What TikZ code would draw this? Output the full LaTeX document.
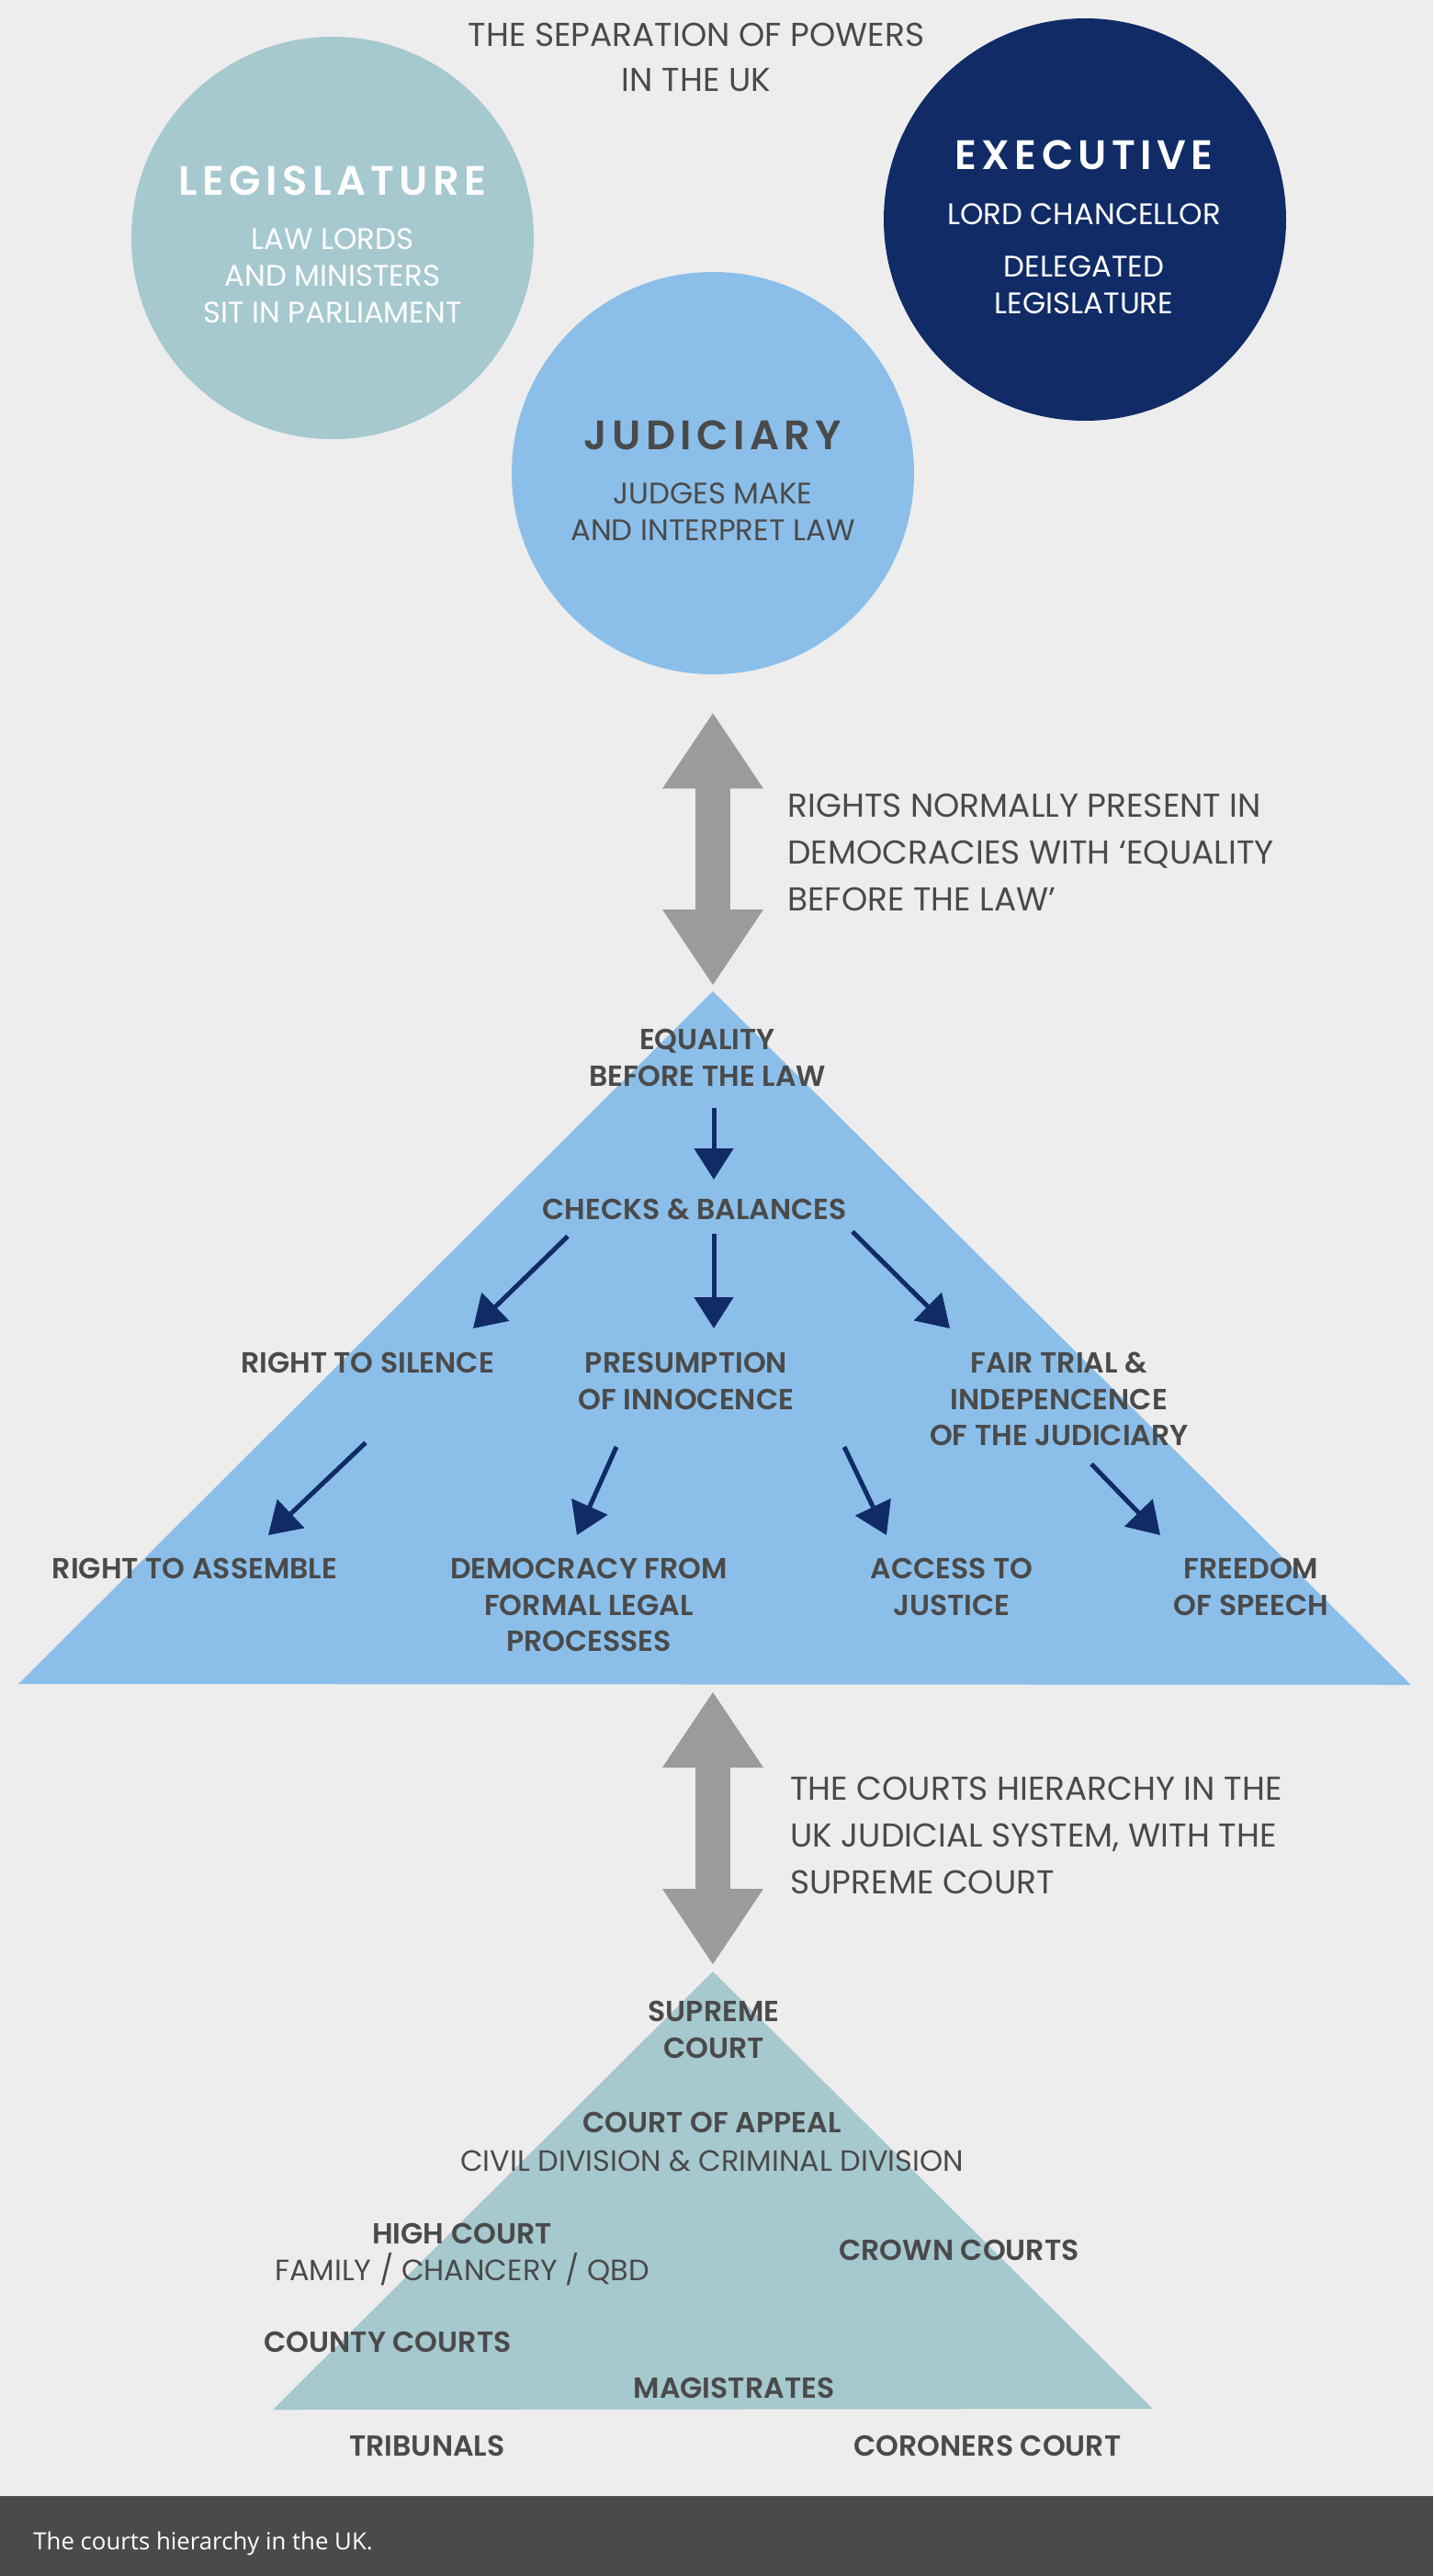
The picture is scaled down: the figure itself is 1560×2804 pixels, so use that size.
\documentclass[tikz,border=0pt]{standalone}
\usepackage{fontspec}
\setmainfont{Poppins}[UprightFont=* Regular, BoldFont=* SemiBold]
\newfontfamily\headfont{Poppins}[UprightFont=* SemiBold, LetterSpace=12]
\newfontfamily\notefont{Open Sans}
\usepackage{tikz}
\usetikzlibrary{positioning,arrows.meta,calc}
\definecolor{paper}{HTML}{EDEDED}
\definecolor{sage}{HTML}{A6C8CF}
\definecolor{navy}{HTML}{102B66}
\definecolor{sky}{HTML}{8BBFEA}
\definecolor{steel}{HTML}{9B9B9B}
\definecolor{ink}{HTML}{4A4A4A}
\definecolor{slate}{HTML}{4A4A49}
\newcommand{\thin}{\mdseries\fontsize{16}{19.75}\selectfont}
\tikzset{
  pillar/.style = {circle, fill=#1, minimum size=219pt, inner sep=0pt},
  head/.style   = {font=\headfont\fontsize{22.4}{26}\selectfont, text=#1, inner sep=0pt, anchor=north},
  gist/.style   = {font=\fontsize{16.2}{20}\selectfont, text=#1, align=center, inner sep=0pt, anchor=north},
  tag/.style    = {font=\bfseries\fontsize{15.8}{19.75}\selectfont, text=ink, align=center, inner sep=0pt, anchor=north},
  aside/.style  = {font=\fontsize{18}{25.5}\selectfont, text=ink, align=left, inner sep=0pt, anchor=north west},
  link/.style   = {-{Triangle[length=17pt, width=21pt]}, line width=2.5pt, draw=navy},
  bridge/.style = {{Triangle[length=41pt, width=55pt, line width=0pt]}-{Triangle[length=41pt, width=55pt, line width=0pt]},
                   line width=19pt, draw=steel},
}

\begin{document}
\begin{tikzpicture}[x=0.5pt, y=-0.5pt]

  \fill[paper] (0,0) rectangle (1560,2804);
  \useasboundingbox (0,0) rectangle (1560,2804);

  %% ---- the three powers ------------------------------------------------------
  \node[gist=ink, font=\fontsize{18}{24.5}\selectfont] (title) at (758,25)
    {THE SEPARATION OF POWERS\\IN THE UK};

  \node[pillar=sage] (legis) at (362,259) {};
  \node[pillar=navy] (exec)  at (1181,239) {};
  \node[pillar=sky]  (judic) at (776,515) {};

  \node[head=white] (legisHead) at (362,180) {LEGISLATURE};
  \node[gist=white] (legisGist) at (362,248) {LAW LORDS\\AND MINISTERS\\SIT IN PARLIAMENT};
  \node[head=white] (execHead)  at (1180,152) {EXECUTIVE};
  \node[gist=white] (execGist)  at (1180,221) {LORD CHANCELLOR\\[8.5pt]DELEGATED\\LEGISLATURE};
  \node[head=ink]   (judicHead) at (776,457) {JUDICIARY};
  \node[gist=ink]   (judicGist) at (776,525) {JUDGES MAKE\\AND INTERPRET LAW};

  %% ---- rights pyramid --------------------------------------------------------
  \coordinate (rightsApex)  at (776,1079);
  \coordinate (rightsLeft)  at (20,1833);
  \coordinate (rightsRight) at (1536,1834);
  \fill[sky] (rightsApex) -- (rightsLeft) -- (rightsRight) -- cycle;

  \draw[bridge] ($(judic.south)+(0,42)$) -- ($(rightsApex)+(0,-7)$);
  \node[aside] (rightsNote) at (857,864)
    {RIGHTS NORMALLY PRESENT IN\\DEMOCRACIES WITH ‘EQUALITY\\BEFORE THE LAW’};

  \node[tag] (equal)     at (770,1120)  {EQUALITY\\BEFORE THE LAW};
  \node[tag] (checks)    at (756,1305)  {CHECKS \& BALANCES};
  \node[tag] (silence)   at (400,1472)  {RIGHT TO SILENCE};
  \node[tag] (innocence) at (747,1472)  {PRESUMPTION\\OF INNOCENCE};
  \node[tag] (fair)      at (1153,1472) {FAIR TRIAL \&\\INDEPENCENCE\\OF THE JUDICIARY};
  \node[tag] (assemble)  at (212,1696)  {RIGHT TO ASSEMBLE};
  \node[tag] (democracy) at (641,1696)  {DEMOCRACY FROM\\FORMAL LEGAL\\PROCESSES};
  \node[tag] (justice)   at (1036,1696) {ACCESS TO\\JUSTICE};
  \node[tag] (speech)    at (1362,1696) {FREEDOM\\OF SPEECH};

  \draw[link] ($(equal.south)+(7,23)$)       -- ($(checks.north)+(21,-21)$);
  \draw[link] ($(checks.south)+(-138,17)$)   -- ($(silence.north)+(115,-26)$);
  \draw[link] ($(checks.south)+(21,14)$)     -- ($(innocence.north)+(30,-26)$);
  \draw[link] ($(checks.south)+(172,12)$)    -- ($(fair.north)+(-119,-26)$);
  \draw[link] ($(silence.south)+(-2,75)$)    -- ($(assemble.north)+(80,-25)$);
  \draw[link] ($(innocence.south)+(-76,40)$) -- ($(democracy.north)+(-13,-25)$);
  \draw[link] ($(innocence.south)+(172,40)$) -- ($(justice.north)+(-71,-25)$);
  \draw[link] ($(fair.south)+(35,19)$)       -- ($(speech.north)+(-99,-25)$);

  %% ---- courts pyramid --------------------------------------------------------
  \coordinate (courtsApex)  at (776,2146);
  \coordinate (courtsLeft)  at (297,2623);
  \coordinate (courtsRight) at (1255,2622);
  \fill[sage] (courtsApex) -- (courtsLeft) -- (courtsRight) -- cycle;

  \draw[bridge] ($(rightsApex |- rightsLeft)+(0,9)$) -- ($(courtsApex)+(0,-8)$);
  \node[aside] (courtsNote) at (860,1934)
    {THE COURTS HIERARCHY IN THE\\UK JUDICIAL SYSTEM, WITH THE\\SUPREME COURT};

  \node[tag] (supreme)     at (777,2178)  {SUPREME\\COURT};
  \node[tag] (appeal)      at (775,2299)  {COURT OF APPEAL\\[1pt]\thin CIVIL DIVISION \& CRIMINAL DIVISION};
  \node[tag] (high)        at (503,2420)  {HIGH COURT\\\thin FAMILY / CHANCERY / QBD};
  \node[tag] (crown)       at (1044,2438) {CROWN COURTS};
  \node[tag] (county)      at (422,2538)  {COUNTY COURTS};
  \node[tag] (magistrates) at (799,2588)  {MAGISTRATES};
  \node[tag] (tribunals)   at (465,2651)  {TRIBUNALS};
  \node[tag] (coroners)    at (1075,2651) {CORONERS COURT};

  %% ---- caption bar -----------------------------------------------------------
  \fill[slate] (0,2717) rectangle (1560,2804);
  \node[anchor=north west, inner sep=0pt, text=white, font=\notefont\fontsize{12.9}{15}\selectfont]
    (caption) at (36,2755) {The courts hierarchy in the UK.};
\end{tikzpicture}
\end{document}
